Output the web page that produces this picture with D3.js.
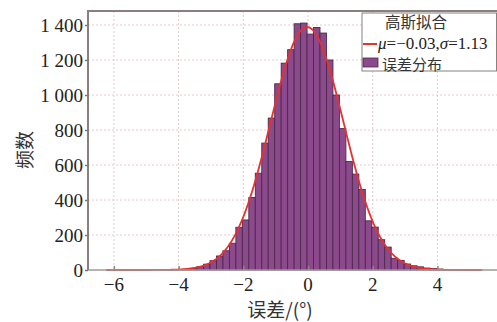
<!DOCTYPE html>
<html>
<head>
<meta charset="utf-8">
<script src="https://cdn.jsdelivr.net/npm/d3@7/dist/d3.min.js"></script>
<style>
  html, body { margin: 0; padding: 0; background: #fff; }
  svg { display: block; }
</style>
</head>
<body>
<svg id="chart" width="497" height="322"></svg>
<script>
// Histogram of angular error: bins of width 0.2 starting at the smallest sample
const binStart = -6.23;
const binWidth = 0.2;
const counts = [
  1, 0, 0, 0, 0, 0, 0, 0, 0, 1, 1, 2,
  4, 10, 19, 33, 53, 80, 110, 153, 244, 286,
  414, 553, 725, 868, 1064, 1182, 1259, 1407, 1411, 1348,
  1386, 1354, 1200, 1000, 808, 620, 548, 460, 281, 245,
  173, 131, 67, 55, 34, 24, 18, 11, 8, 5,
  3, 2, 1, 1, 0, 1
];

// Gaussian fit parameters
const mu = -0.03;
const sigma = 1.13;

// Axis ticks
const xTicks = [-6, -4, -2, 0, 2, 4];
const yTicks = [0, 200, 400, 600, 800, 1000, 1200, 1400];
const yTickLabels = ["0", "200", "400", "600", "800", "1 000", "1 200", "1 400"];

const SERIF = "'Liberation Serif', 'Times New Roman', 'DejaVu Serif', serif";
const CJK = "'Noto Sans CJK SC', sans-serif";

const svg = d3.select("#chart");
const plotL = 88, plotR = 497, plotT = 11, plotB = 270;

const x = d3.scaleLinear().domain([-6.8, 5.84]).range([plotL, plotR]);
const y = d3.scaleLinear().domain([0, 1480]).range([plotB, plotT]);

// grid
const grid = svg.append("g");
grid.selectAll("line.gx").data(xTicks).join("line")
  .attr("x1", d => x(d)).attr("x2", d => x(d))
  .attr("y1", plotT).attr("y2", plotB)
  .attr("stroke", "#e6c9cc").attr("stroke-width", 1)
  .attr("stroke-dasharray", "2,2");
grid.selectAll("line.gy").data(yTicks.slice(1)).join("line")
  .attr("x1", plotL).attr("x2", plotR)
  .attr("y1", d => y(d)).attr("y2", d => y(d))
  .attr("stroke", "#e6c9cc").attr("stroke-width", 1)
  .attr("stroke-dasharray", "2,2");

// bars
const bins = counts.map((c, i) => ({ x0: binStart + i * binWidth, x1: binStart + (i + 1) * binWidth, c }));
svg.append("g").selectAll("rect").data(bins.filter(b => b.c > 0)).join("rect")
  .attr("x", d => x(d.x0))
  .attr("width", d => x(d.x1) - x(d.x0))
  .attr("y", d => y(d.c))
  .attr("height", d => y(0) - y(d.c))
  .attr("fill", "#8c4a8c")
  .attr("stroke", "#4b2a4b")
  .attr("stroke-width", 0.9);

// fitted curve scaled to histogram area
const total = d3.sum(counts);
const amp = total * binWidth / (sigma * Math.sqrt(2 * Math.PI));
const xMin = binStart, xMax = binStart + counts.length * binWidth;
const curvePts = d3.range(0, 401).map(i => {
  const t = xMin + (xMax - xMin) * i / 400;
  return [t, amp * Math.exp(-0.5 * ((t - mu) / sigma) ** 2)];
});
svg.append("path")
  .attr("d", d3.line().x(d => x(d[0])).y(d => y(d[1]))(curvePts))
  .attr("fill", "none")
  .attr("stroke", "#e8302c")
  .attr("stroke-width", 1.8);

// axes frame
const xAxis = d3.axisBottom(x).tickValues(xTicks).tickSize(-4).tickFormat("");
svg.append("g").attr("transform", `translate(0,${plotB})`).call(xAxis)
  .call(g => g.select(".domain").remove())
  .call(g => g.selectAll(".tick line").attr("stroke", "#888").attr("stroke-width", 1.5));
const yAxis = d3.axisLeft(y).tickValues(yTicks).tickSize(3).tickFormat("");
svg.append("g").attr("transform", `translate(${plotL},0)`).call(yAxis)
  .call(g => g.select(".domain").remove())
  .call(g => g.selectAll(".tick line").attr("stroke", "#7d7373").attr("stroke-width", 1.5));

svg.append("line").attr("x1", plotL).attr("x2", plotR).attr("y1", plotB).attr("y2", plotB)
  .attr("stroke", "#a09a9a").attr("stroke-width", 1.5);
svg.append("line").attr("x1", plotL).attr("x2", plotR).attr("y1", plotT).attr("y2", plotT)
  .attr("stroke", "#8a7f7f").attr("stroke-width", 2);
svg.append("line").attr("x1", plotL).attr("x2", plotL).attr("y1", plotT - 1).attr("y2", plotB)
  .attr("stroke", "#8a7f7f").attr("stroke-width", 2);

// tick labels
svg.append("g").selectAll("text").data(xTicks).join("text")
  .attr("font-family", SERIF)
  .attr("x", d => x(d)).attr("y", 291)
  .attr("text-anchor", "middle")
  .attr("font-size", 19).attr("fill", "#222")
  .text(d => d < 0 ? "\u2212" + Math.abs(d) : String(d));
svg.append("g").selectAll("text").data(yTicks).join("text")
  .attr("font-family", SERIF)
  .attr("x", 83).attr("y", d => y(d))
  .attr("dy", "0.35em")
  .attr("text-anchor", "end")
  .attr("font-size", 19).attr("fill", "#222")
  .text((d, i) => yTickLabels[i]);

// axis titles
svg.append("text").attr("font-family", CJK)
  .attr("x", 280).attr("y", 317)
  .attr("text-anchor", "middle").attr("font-size", 19).attr("fill", "#333")
  .text("误差/(°)");
svg.append("text").attr("font-family", CJK)
  .attr("transform", "translate(32,150) rotate(-90)")
  .attr("text-anchor", "middle").attr("font-size", 19).attr("fill", "#333")
  .text("频数");

// legend
const lg = svg.append("g");
lg.append("rect").attr("x", 362).attr("y", 13).attr("width", 134.5).attr("height", 58)
  .attr("fill", "#fff").attr("stroke", "#8a8080").attr("stroke-width", 1);
lg.append("text").attr("font-family", CJK)
  .attr("x", 416).attr("y", 28)
  .attr("text-anchor", "middle").attr("font-size", 15.5).attr("fill", "#333")
  .text("高斯拟合");
lg.append("line").attr("x1", 363).attr("x2", 377).attr("y1", 44).attr("y2", 44)
  .attr("stroke", "#e8302c").attr("stroke-width", 2);
const t2 = lg.append("text").attr("font-family", SERIF)
  .attr("x", 378).attr("y", 48.5).attr("font-size", 17).attr("fill", "#222");
t2.append("tspan").attr("font-style", "italic").text("μ");
t2.append("tspan").text("=\u22120.03,");
t2.append("tspan").attr("font-style", "italic").text("σ");
t2.append("tspan").text("=1.13");
lg.append("rect").attr("x", 363).attr("y", 58).attr("width", 15).attr("height", 9)
  .attr("fill", "#8c4a8c").attr("stroke", "#4b2a4b").attr("stroke-width", 0.8);
lg.append("text").attr("font-family", CJK)
  .attr("x", 382).attr("y", 70).attr("font-size", 15).attr("fill", "#333")
  .text("误差分布");
</script>
</body>
</html>
